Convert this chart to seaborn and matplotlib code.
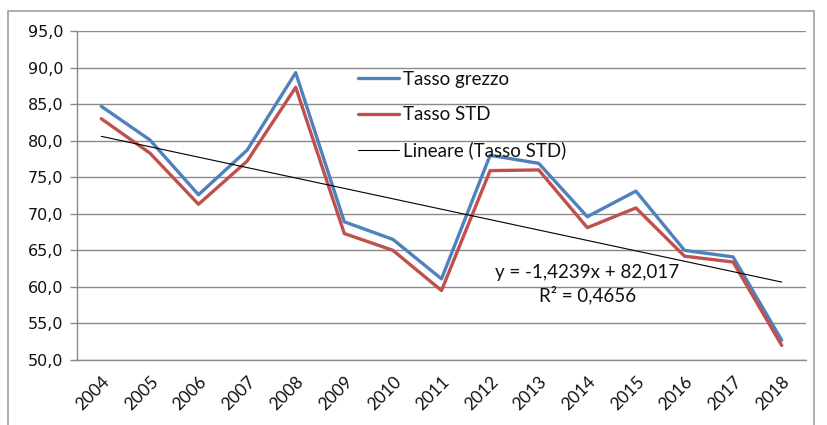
import matplotlib
matplotlib.use("Agg")
import matplotlib.pyplot as plt
from matplotlib.lines import Line2D
from matplotlib.patches import Rectangle
import numpy as np
import pandas as pd
import seaborn as sns

years = ["2004", "2005", "2006", "2007", "2008", "2009", "2010", "2011",
         "2012", "2013", "2014", "2015", "2016", "2017", "2018"]
tasso_grezzo = [84.7, 80.1, 72.6, 78.7, 89.3, 68.9, 66.5, 61.1,
                78.0, 76.9, 69.6, 73.1, 65.0, 64.1, 52.7]
tasso_std = [83.0, 78.3, 71.3, 77.2, 87.3, 67.3, 65.0, 59.5,
             75.9, 76.0, 68.1, 70.8, 64.2, 63.4, 52.0]
trend_slope = -1.4239
trend_intercept = 82.017
trend_r2 = 0.4656
y_ticks = [50, 55, 60, 65, 70, 75, 80, 85, 90, 95]

sns.set_style("white")
plt.rcParams["font.family"] = ["Lato", "DejaVu Sans"]

idx = np.arange(1, len(years) + 1)
df = pd.DataFrame({"idx": idx, "grezzo": tasso_grezzo, "std": tasso_std})

fig = plt.figure(figsize=(8.27, 4.25), dpi=100)
ax = fig.add_axes([77 / 827, 1 - 360 / 425, (806 - 77) / 827, (360 - 31) / 425])

blue = "#4F81BD"
red = "#C0504D"
sns.lineplot(data=df, x="idx", y="grezzo", ax=ax, color=blue, linewidth=2.4,
             zorder=3)
sns.lineplot(data=df, x="idx", y="std", ax=ax, color=red, linewidth=2.4,
             zorder=4)
trend = trend_slope * idx + trend_intercept
ax.plot(idx, trend, color="black", linewidth=0.8, zorder=5)

ax.set_xlim(0.5, len(years) + 0.5)
ax.set_ylim(50, 95)
ax.set_yticks(y_ticks)
ax.set_yticklabels([f"{v:.1f}".replace(".", ",") for v in y_ticks],
                   family="DejaVu Sans", fontsize=11.5, color="#111111")
ax.set_xticks(idx)
ax.set_xticklabels(years, rotation=45, ha="right", rotation_mode="anchor",
                   fontsize=12.5, color="#111111")
ax.set_xticks(np.arange(0.5, len(years) + 1), minor=True)
ax.tick_params(axis="x", which="major", length=0, pad=10)
ax.tick_params(axis="x", which="minor", length=5, color="#888888", width=1,
               direction="out")
ax.tick_params(axis="y", length=5, color="#888888", width=1, direction="out",
               pad=5, left=True)
ax.set_xlabel("")
ax.set_ylabel("")

ax.grid(axis="y", color="#8a8a8a", linewidth=1)
ax.set_axisbelow(True)
for side in ("top", "right"):
    ax.spines[side].set_visible(False)
for side in ("left", "bottom"):
    ax.spines[side].set_color("#8a8a8a")
    ax.spines[side].set_linewidth(1)

handles = [Line2D([], [], color=blue, linewidth=2.4),
           Line2D([], [], color=red, linewidth=2.4),
           Line2D([], [], color="black", linewidth=0.8)]
ax.legend(handles, ["Tasso grezzo", "Tasso STD", "Lineare (Tasso STD)"],
          loc="upper left", bbox_to_anchor=(0.362, 0.93), frameon=False,
          fontsize=13.5, handlelength=2.2, handletextpad=0.2,
          labelspacing=0.98, labelcolor="#111111")

eq = f"y = {trend_slope:.4f}x + {trend_intercept:.3f}".replace(".", ",")
r2 = f"R² = {trend_r2:.4f}".replace(".", ",")
ax.text(11.0, 62.0, eq, ha="center", va="center", fontsize=13.5,
        color="#111111")
ax.text(11.0, 58.9, r2, ha="center", va="center", fontsize=13.5,
        color="#111111")

fig.add_artist(Rectangle((8 / 827, -0.02), (814 - 8) / 827, 1 - 11 / 425 + 0.02,
                         transform=fig.transFigure, fill=False,
                         edgecolor="#a0a0a0", linewidth=1.2))

fig.savefig("out.png", dpi=100)
